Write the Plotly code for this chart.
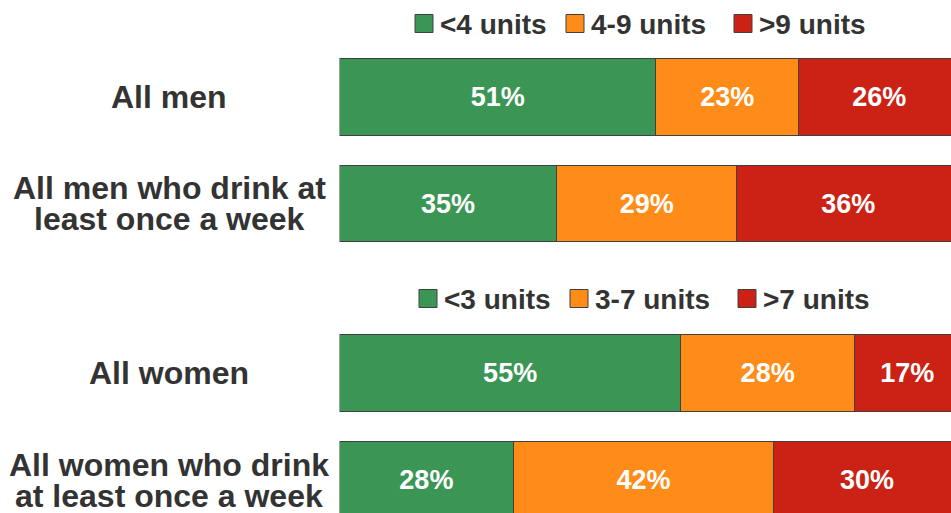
import plotly.graph_objects as go
from plotly.subplots import make_subplots

# ---- data ----
men_groups = ["All men<br>", "All men who drink at<br>least once a week"]
men_low = [51, 35]
men_mid = [23, 29]
men_high = [26, 36]
men_legend = ["<4 units", "4-9 units", ">9 units"]

women_groups = ["All women<br>", "All women who drink<br>at least once a week"]
women_low = [55, 28]
women_mid = [28, 42]
women_high = [17, 30]
women_legend = ["<3 units", "3-7 units", ">7 units"]

colors = ["#3B9656", "#FF8C19", "#CC2216"]
W, H = 951, 513
FONT = "Liberation Sans, Arial, sans-serif"
TXT = "#333333"

fig = make_subplots(rows=2, cols=1, shared_xaxes=False, vertical_spacing=0.0)

def add_group(row, groups, series, names):
    for vals, col, nm in zip(series, colors, names):
        fig.add_trace(go.Bar(
            y=groups, x=vals, orientation="h", name=nm,
            marker=dict(color=col, line=dict(color="#404040", width=1)),
            text=[f"{v}%" for v in vals], textposition="inside",
            insidetextanchor="middle", constraintext="none",
            textfont=dict(family=FONT, size=27, color="white", weight="bold"),
            showlegend=False, hoverinfo="skip"), row=row, col=1)

add_group(1, men_groups, [men_low, men_mid, men_high], men_legend)
add_group(2, women_groups, [women_low, women_mid, women_high], women_legend)

x0 = 339.5 / W
xmax = 98.55
def py(p):
    return 1 - p / H

fig.update_layout(
    width=W, height=H, barmode="stack", bargap=0.286,
    margin=dict(l=0, r=0, t=0, b=0),
    paper_bgcolor="white", plot_bgcolor="white", showlegend=False,
    xaxis=dict(domain=[x0, 1], range=[0, xmax], visible=False),
    xaxis2=dict(domain=[x0, 1], range=[0, xmax], visible=False),
    yaxis=dict(domain=[py(256.75), py(43.75)], range=[1.5, -0.5],
               visible=False, type="category"),
    yaxis2=dict(domain=[0, py(319.75)], range=[-0.5 + 193.25 / 106.5, -0.5],
                visible=False, type="category"),
)

# category labels (left side)
annots = []
centers = [(men_groups, [97, 203.5]), (women_groups, [373, 480])]
for groups, cys in centers:
    for g, cy in zip(groups, cys):
        lines = [l for l in g.split("<br>") if l]
        n = len(lines)
        for i, line in enumerate(lines):
            yy = cy + (i - (n - 1) / 2) * 31
            annots.append(dict(x=169 / W, y=py(yy), xref="paper", yref="paper",
                               text=line, showarrow=False, xanchor="center",
                               yanchor="middle",
                               font=dict(family=FONT, size=32, color=TXT, weight="bold")))

# legends (manual)
shapes = []
legend_specs = [(men_legend, [415, 566, 734], 23.5),
                (women_legend, [419, 570, 738], 298.5)]
for labels, xs, cy in legend_specs:
    for lab, xl, col in zip(labels, xs, colors):
        shapes.append(dict(type="rect", xref="paper", yref="paper",
                           x0=xl / W, x1=(xl + 18) / W,
                           y0=py(cy + 9), y1=py(cy - 9),
                           fillcolor=col, line=dict(color="#404040", width=1)))
        annots.append(dict(x=(xl + 23) / W, y=py(cy + 1), xref="paper", yref="paper",
                           text=lab, showarrow=False, xanchor="left",
                           yanchor="middle",
                           font=dict(family=FONT, size=28, color=TXT, weight="bold")))

fig.update_layout(annotations=annots, shapes=shapes)
fig.write_html("out.html", config={"displayModeBar": False},
               post_script="document.body.style.margin='0';"
                           "document.documentElement.style.overflow='hidden';")
